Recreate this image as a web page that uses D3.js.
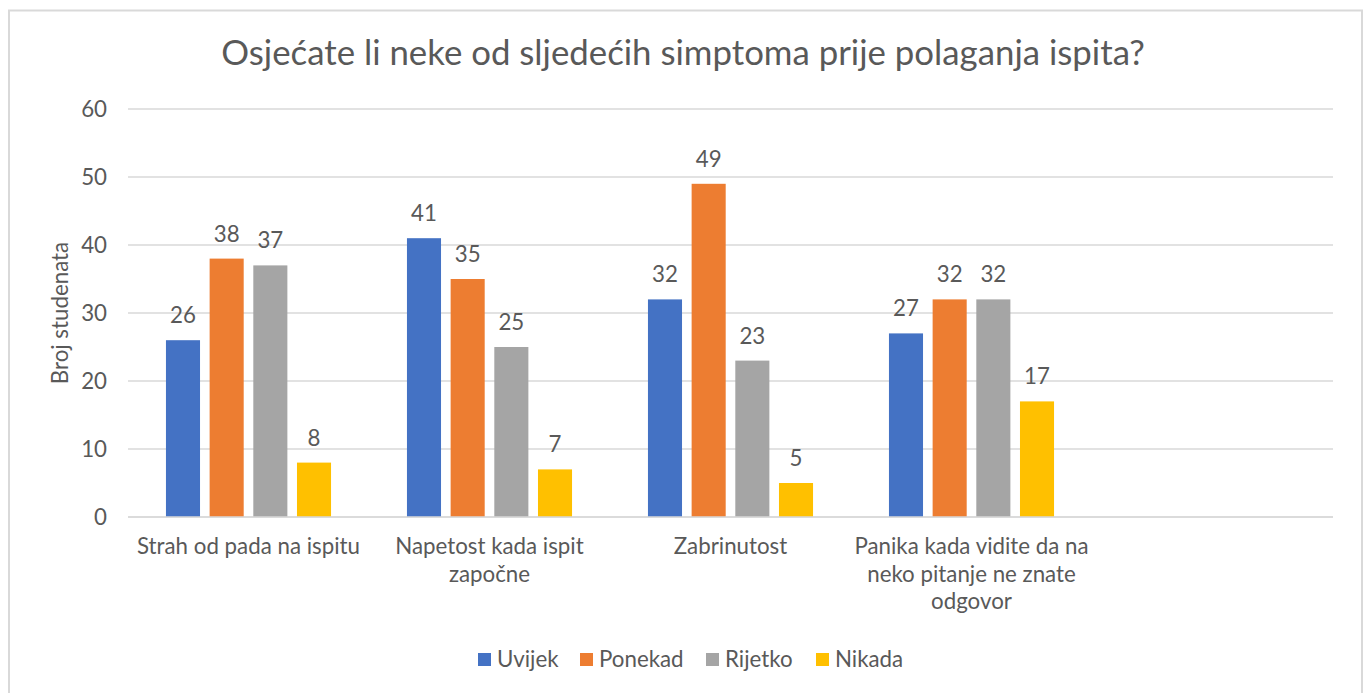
<!DOCTYPE html>
<html><head><meta charset="utf-8">
<script src="https://cdn.jsdelivr.net/npm/d3@7"></script>
<style>body{margin:0;background:#fff;} text{font-family:Lato,"Open Sans",sans-serif;fill:#595959;}</style>
</head><body>
<svg id="c" width="1367" height="693"></svg>
<script>
const categories = ["Strah od pada na ispitu","Napetost kada ispit započne","Zabrinutost","Panika kada vidite da na neko pitanje ne znate odgovor",""];
const categoryLines = [["Strah od pada na ispitu"],["Napetost kada ispit","započne"],["Zabrinutost"],["Panika kada vidite da na","neko pitanje ne znate","odgovor"],[]];
const seriesNames = ["Uvijek","Ponekad","Rijetko","Nikada"];
const uvijek = [26,41,32,27];
const ponekad = [38,35,49,32];
const rijetko = [37,25,23,32];
const nikada = [8,7,5,17];
const yTicks = [0,10,20,30,40,50,60];
const colors = ["#4472c4","#ed7d31","#a5a5a5","#ffc000"];
const seriesValues = [uvijek,ponekad,rijetko,nikada];

const FS = "22.3px";
const svg = d3.select("#c");
svg.append("rect").attr("x",9).attr("y",10.5).attr("width",1353).attr("height",700)
  .attr("fill","#fff").attr("stroke","#d9d9d9").attr("stroke-width",2);

svg.append("text").attr("x",683).attr("y",65).attr("text-anchor","middle")
  .style("font-size","34.8px").text("Osjećate li neke od sljedećih simptoma prije polaganja ispita?");

const pL=128, pR=1333, pT=109, pB=517;
const y = d3.scaleLinear().domain([0,60]).range([pB,pT]);
const x0 = d3.scaleBand().domain(categories.map((c,i)=>i)).range([pL,pR]).padding(0);
const bw = x0.bandwidth();
const groupW = bw*0.685;
const x1 = d3.scaleBand().domain(seriesNames).range([(bw-groupW)/2,(bw+groupW)/2]).paddingInner(0.22).paddingOuter(0);

// gridlines
svg.append("g").selectAll("line").data(yTicks).join("line")
  .attr("x1",pL).attr("x2",pR).attr("y1",d=>y(d)).attr("y2",d=>y(d))
  .attr("stroke","#d9d9d9").attr("stroke-width",1.3);

// y axis labels
const ya = svg.append("g").attr("transform",`translate(${pL},0)`)
  .call(d3.axisLeft(y).tickValues(yTicks).tickSize(0).tickPadding(21));
ya.select(".domain").remove();
ya.selectAll("text").style("font-size",FS).attr("fill","#595959").style("font-family","Lato,'Open Sans',sans-serif");

svg.append("text").attr("transform",`translate(68,${(pT+pB)/2}) rotate(-90)`)
  .attr("text-anchor","middle").style("font-size",FS).text("Broj studenata");

// bars
const data = [];
seriesValues.forEach((vals,si)=>vals.forEach((v,ci)=>data.push({ci,si,v})));
svg.append("g").selectAll("rect").data(data).join("rect")
  .attr("x",d=>x0(d.ci)+x1(seriesNames[d.si])).attr("width",x1.bandwidth())
  .attr("y",d=>y(d.v)).attr("height",d=>y(0)-y(d.v)).attr("fill",d=>colors[d.si]);
svg.append("g").selectAll("text").data(data).join("text")
  .attr("x",d=>x0(d.ci)+x1(seriesNames[d.si])+x1.bandwidth()/2).attr("y",d=>y(d.v)-17)
  .attr("text-anchor","middle").style("font-size",FS).text(d=>d.v);

// baseline
svg.append("line").attr("x1",pL).attr("x2",pR).attr("y1",y(0)).attr("y2",y(0))
  .attr("stroke","#d9d9d9").attr("stroke-width",1.3);

// x category labels
const xl = svg.append("g");
categoryLines.forEach((lines,i)=>{
  const t = xl.append("text").attr("text-anchor","middle").style("font-size",FS);
  lines.forEach((l,j)=>t.append("tspan").attr("x",x0(i)+bw/2).attr("y",554+j*27.5).text(l));
});

// legend
const lx=[478,580,706,816];
const lg = svg.append("g");
seriesNames.forEach((s,i)=>{
  lg.append("rect").attr("x",lx[i]).attr("y",653).attr("width",13).attr("height",13).attr("fill",colors[i]);
  lg.append("text").attr("x",lx[i]+19).attr("y",667).style("font-size",FS).text(s);
});
</script>
</body></html>
